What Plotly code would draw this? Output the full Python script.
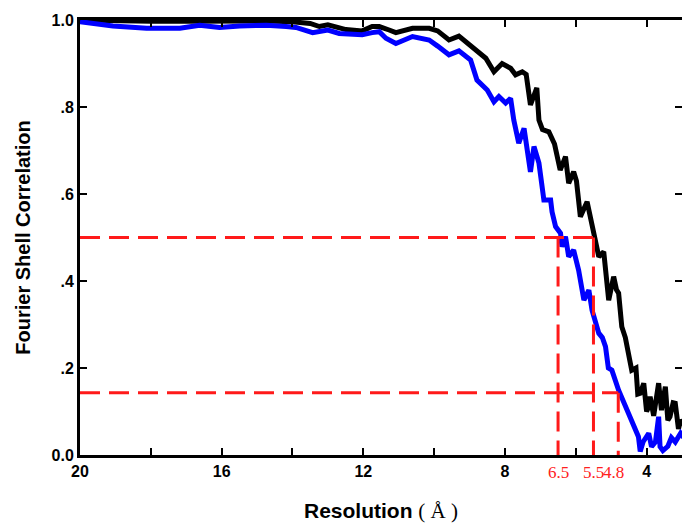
import plotly.graph_objects as go

# Resolution (Å) and FSC values
res_black = [20, 19, 18, 17, 16, 15, 14, 13.5, 13.24, 13.0, 12.49, 12.03, 11.75, 11.55, 11.27,
             11.08, 10.61, 10.14, 9.9, 9.58, 9.3, 8.93, 8.54, 8.31, 8.08, 7.84, 7.7, 7.51, 7.4,
             7.28, 7.1, 7.04, 6.94, 6.76, 6.6, 6.44, 6.29, 6.2, 6.06, 5.98, 5.87, 5.68, 5.49,
             5.35, 5.21, 5.07, 4.93, 4.85, 4.79, 4.70, 4.60, 4.51, 4.42, 4.30, 4.25, 4.18, 4.08,
             4.0, 3.94, 3.9, 3.8, 3.66, 3.58, 3.47, 3.4, 3.34, 3.25, 3.19, 3.1, 3.04, 2.95]
fsc_black = [1.0, 0.998, 0.997, 0.997, 0.998, 0.998, 0.996, 0.992, 0.985, 0.989, 0.978, 0.975,
             0.985, 0.985, 0.977, 0.971, 0.981, 0.981, 0.975, 0.954, 0.963, 0.939, 0.912, 0.881,
             0.9, 0.889, 0.874, 0.881, 0.875, 0.805, 0.844, 0.77, 0.748, 0.743, 0.715, 0.655,
             0.686, 0.625, 0.651, 0.63, 0.548, 0.582, 0.502, 0.456, 0.467, 0.356, 0.41, 0.38,
             0.372, 0.295, 0.27, 0.226, 0.195, 0.2, 0.14, 0.142, 0.165, 0.1, 0.111, 0.134, 0.09,
             0.165, 0.103, 0.157, 0.08, 0.088, 0.12, 0.119, 0.06, 0.08, 0.07]

res_blue = [20, 19.07, 18.12, 17.18, 16.62, 16.06, 15.49, 14.74, 14.18, 13.9, 13.43, 13.0, 12.68,
            12.03, 11.75, 11.55, 11.36, 11.08, 10.61, 10.14, 9.9, 9.58, 9.3, 8.97, 8.79, 8.5,
            8.31, 8.17, 7.98, 7.84, 7.75, 7.61, 7.46, 7.28, 7.18, 7.04, 6.9, 6.71, 6.67, 6.57,
            6.43, 6.39, 6.29, 6.2, 6.06, 5.92, 5.77, 5.63, 5.54, 5.45, 5.35, 5.25, 5.16, 5.08,
            4.98, 4.79, 4.6, 4.42, 4.23, 4.18, 4.1, 3.94, 3.86, 3.75, 3.66, 3.62, 3.54, 3.4,
            3.3, 3.19, 3.04, 2.95]
fsc_blue = [0.996, 0.986, 0.981, 0.981, 0.988, 0.983, 0.986, 0.988, 0.985, 0.983, 0.971, 0.977,
            0.969, 0.966, 0.971, 0.973, 0.958, 0.946, 0.962, 0.954, 0.94, 0.92, 0.929, 0.908,
            0.862, 0.839, 0.812, 0.824, 0.809, 0.82, 0.77, 0.717, 0.751, 0.651, 0.709, 0.671,
            0.586, 0.586, 0.559, 0.525, 0.51, 0.479, 0.502, 0.456, 0.471, 0.425, 0.356, 0.379,
            0.333, 0.31, 0.28, 0.27, 0.249, 0.2, 0.195, 0.149, 0.111, 0.08, 0.042, 0.008, 0.03,
            0.05, 0.019, 0.03, 0.088, 0.019, 0.01, 0.02, 0.04, 0.03, 0.05, 0.04]

# FSC thresholds and the resolutions where they are crossed
thresholds = [0.5, 0.143]
cutoffs = [6.5, 5.5, 4.8]
cutoff_threshold = [0.5, 0.5, 0.143]
cutoff_labels = ["6.5", "5.5", "4.8"]

x_tickvals = [20, 18, 16, 14, 12, 10, 8, 6, 4]
x_ticktext = ["20", "", "16", "", "12", "", "8", "", "4"]
y_tickvals = [0, 0.2, 0.4, 0.6, 0.8, 1.0]
y_ticktext = ["0.0", ".2", ".4", ".6", ".8", "1.0"]

x_min, x_max = 20, 3.0

fig = go.Figure()
fig.add_trace(go.Scatter(x=res_black, y=fsc_black, mode="lines",
                         line=dict(color="black", width=5), showlegend=False))
fig.add_trace(go.Scatter(x=res_blue, y=fsc_blue, mode="lines",
                         line=dict(color="#0000ff", width=5), showlegend=False))

red_dash = dict(color="#ff1a1a", width=3, dash="20px,9px")
# horizontal threshold lines, from left axis to the matching cutoff
for thr, end in zip(thresholds, [cutoffs[1], cutoffs[2]]):
    fig.add_trace(go.Scatter(x=[x_min, end], y=[thr, thr], mode="lines",
                             line=red_dash, showlegend=False))
# vertical lines down to zero
for c, thr in zip(cutoffs, cutoff_threshold):
    fig.add_trace(go.Scatter(x=[c, c], y=[thr, 0], mode="lines",
                             line=red_dash, showlegend=False))

# dummy trace for right-hand tick axis
fig.add_trace(go.Scatter(x=[None], y=[None], yaxis="y2", showlegend=False))

for c, lab in zip(cutoffs, cutoff_labels):
    fig.add_annotation(x=c, y=0, xref="x", yref="y", text=lab, showarrow=False,
                       yanchor="top", yshift=-6, xshift=(-5 if lab == "4.8" else 0),
                       font=dict(family="Liberation Serif", size=17, color="#ff2020"))

bold = dict(family="Liberation Sans", size=16, color="black", weight="bold")
fig.update_layout(
    width=682, height=523,
    margin=dict(l=80, r=0, t=20, b=68, autoexpand=False),
    paper_bgcolor="white", plot_bgcolor="white",
    xaxis=dict(range=[x_min, x_max], tickvals=x_tickvals, ticktext=x_ticktext,
               ticks="inside", ticklen=7, tickwidth=2, tickcolor="black",
               showline=True, linewidth=3, linecolor="black", mirror="ticks",
               showgrid=False, zeroline=False, tickfont=bold, automargin=False,
               title=dict(text="Resolution <span style='font-family:Liberation Serif;font-weight:normal'>( Å )</span>",
                          font=dict(family="Liberation Sans", size=21, color="black", weight="bold"),
                          standoff=26)),
    yaxis=dict(range=[0, 1], tickvals=y_tickvals, ticktext=y_ticktext,
               ticks="inside", ticklen=7, tickwidth=2, tickcolor="black",
               showline=True, linewidth=3, linecolor="black", mirror=False,
               showgrid=False, zeroline=False, tickfont=bold, automargin=False,
               title=dict(text="Fourier Shell Correlation",
                          font=dict(family="Liberation Sans", size=20, color="black", weight="bold"),
                          standoff=16)),
    yaxis2=dict(range=[0, 1], overlaying="y", side="right", tickvals=y_tickvals,
                ticks="inside", ticklen=7, tickwidth=2, tickcolor="black", automargin=False,
                showticklabels=False, showline=False, showgrid=False, zeroline=False),
)

fig.write_html("out.html", config={"displayModeBar": False},
               post_script="document.body.style.margin='0';document.body.style.overflow='hidden';")
